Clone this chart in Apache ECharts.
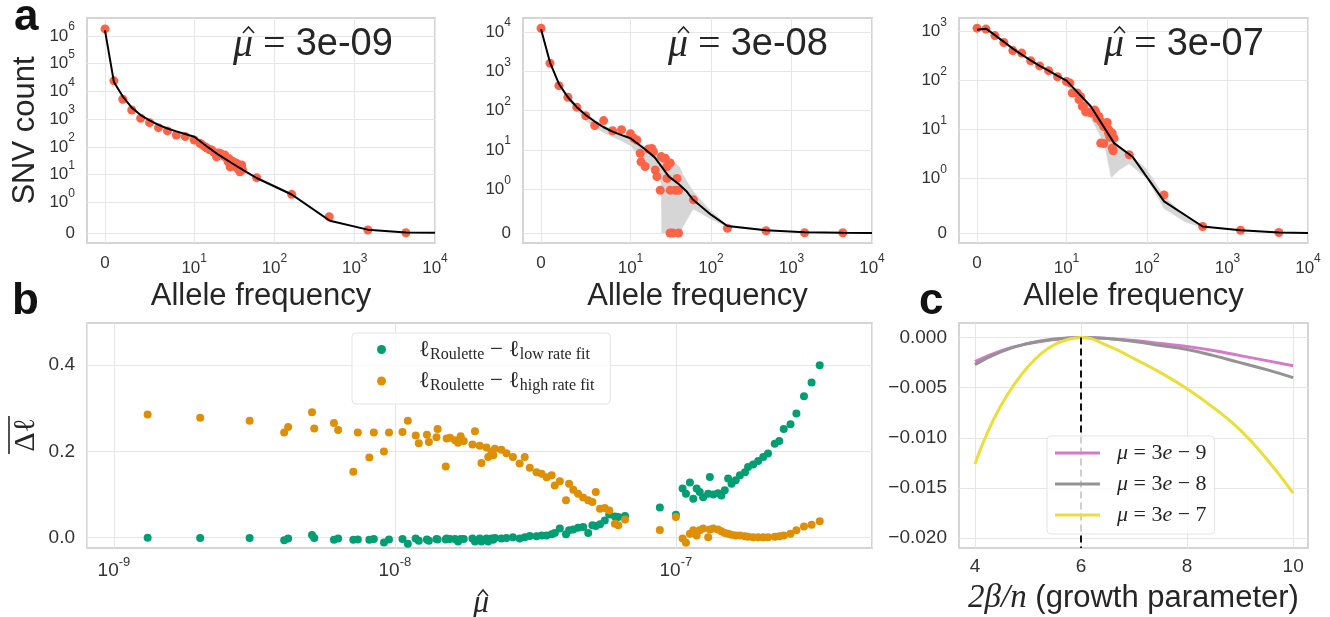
<!DOCTYPE html>
<html><head><meta charset="utf-8">
<script src="https://cdn.jsdelivr.net/npm/echarts@6/dist/echarts.min.js"></script>
<style>html,body{margin:0;padding:0;background:#fff}#c{width:1330px;height:617px}</style>
</head><body><div id="c"></div>
<script>
// ================= DATA =================
// Panel a: allele frequency (x) vs SNV count (y); three estimated mutation rates
const afA1  = [0,1,2,3,4,5,6,7,8,9,10,11.8,12.5,13.6,14.5,15.5,16.5,17.5,19,20,21,22,23,24,25,26.5,27,28,29,30,31,32,34,35,37,38,39,40,60,164,480,1460,4340];
const snvA1 = [1.8e6,2.4e4,5200,2140,1070,745,490,375,268,234,176,134,120,101,90,80,77,65,44,60,58,52,48,51,40,29,38,19,22,30,20,27,25,16,12.6,14,22,15,7.7,1.93,0.53,0.097,0.01];
const fitXA1 = [0,1,2,3,4,5,6,7,8,9,10,15,20,30,40,60,164,490,1450,4350,10000];
const fitYA1 = [1.6e6,2.2e4,6500,2600,1400,900,620,460,360,290,230,95,52,25,15,7.5,1.9,0.4,0.11,0.02,0.01];
const bandXA1  = [10,20,30,40,50,60,164,490];
const bandLoA1 = [215,48,23,12.5,9,6.8,1.75,0.36];
const bandHiA1 = [245,56,28,17,10.5,8.2,2.1,0.44];

const afA2  = [0,1,2,3,4,5,6,7,8,9,10,11,12,13.2,13.5,16.7,19.3,18.4,15.2,20.3,21.3,24.1,27,28.4,31.2,25.7,23.4,31.2,36,39.6,28.4,37.8,31,33.5,39.6,60.6,160,483,1453,4340];
const snvA2 = [12500,1620,435,220,123,74,42,56,31,33,26,20,18,8.3,5.0,10.6,9.1,11,3.8,3.1,2.1,6.8,6.2,3.8,4.7,6.2,0.98,0.98,0.98,0.98,1.9,1.9,0,0,0,0.76,0.108,0.053,0.007,0.005];
const fitXA2 = [0,1,2,3,4,5,6,7,8,9,10,15,20,30,40,50,60,100,160,480,1450,4350,10000];
const fitYA2 = [11800,1700,480,220,123,78,53,38,29.5,24,20,10.6,6.5,2.1,1.35,0.95,0.76,0.42,0.16,0.065,0.02,0.005,0];
const bandXA2  = [2,3,5,7,9,10,12,15,20,24,24.5,30,36,41,45,60,100,160,480];
const bandLoA2 = [430,195,55,28,17,13,8,5,2.5,1.8,0,0,0,0,0.15,0.55,0.32,0.14,0.05];
const bandHiA2 = [520,245,82,42,27,23,16,12.5,8.5,6.5,6.3,5.2,4.8,3.6,2.3,0.95,0.5,0.18,0.075];

const afA3  = [0,1,2,3,4,5,6,7,8,9,10,11,11.8,13.6,14.3,15,15.7,16.2,17.3,18.3,20,20.5,22.5,23,24,25.3,26.6,27.2,29,30.8,32,33.2,33.7,34.5,37,39,26.6,29,37,38,60,163,491,1452,4340];
const snvA3 = [1180,1130,830,600,410,365,255,200,160,120,96,90,56,56,41,47,30,30,23,23,22,22,25,23,17,18.5,14.6,14.3,11.6,11.6,14,8.5,9.9,7,8.5,6.7,5.3,5.2,4.2,3.7,3.07,0.70,0.12,0.05,0.01];
const fitXA3 = [0,1,2,3,4,5,6,7,8,9,10,11,20,39,66,163,491,1452,4350,10000];
const fitYA3 = [1100,1150,850,620,450,340,260,200,160,125,100,85,30,5.3,2.8,0.58,0.12,0.05,0.01,0];
const bandXA3  = [10,12,15,20,25,30,36,45,60,100,163,300,491];
const bandLoA3 = [88,60,36,17,9,4.5,1.05,1.5,2.0,1.0,0.45,0.2,0.1];
const bandHiA3 = [105,78,50,32,20,12,7.5,4.6,3.3,1.5,0.68,0.3,0.14];

const muLabels = ['3e-09','3e-08','3e-07'];
const xTicksA = [0,10,100,1000,10000];
const yTicksA1 = [0,1,10,100,1e3,1e4,1e5,1e6];
const yTicksA2 = [0,1,10,100,1e3,1e4];
const yTicksA3 = [0,1,10,100,1e3];

// Panel b: log10(mu-hat) and mean log-likelihood differences
const log10MuB = [-8.880,-8.693,-8.517,-8.394,-8.380,-8.295,-8.287,-8.217,-8.202,-8.148,-8.132,-8.091,-8.075,-8.039,-8.021,-7.973,-7.954,-7.926,-7.915,-7.886,-7.879,-7.848,-7.852,-7.816,-7.819,-7.804,-7.786,-7.775,-7.766,-7.755,-7.724,-7.715,-7.698,-7.692,-7.674,-7.668,-7.656,-7.650,-7.644,-7.621,-7.603,-7.580,-7.556,-7.538,-7.520,-7.496,-7.478,-7.460,-7.442,-7.431,-7.413,-7.391,-7.380,-7.365,-7.348,-7.330,-7.312,-7.297,-7.285,-7.270,-7.253,-7.237,-7.217,-7.205,-7.181,-7.057,-7.000,-6.976,-6.964,-6.950,-6.938,-6.926,-6.915,-6.903,-6.885,-6.879,-6.867,-6.850,-6.838,-6.826,-6.814,-6.802,-6.787,-6.772,-6.754,-6.743,-6.725,-6.707,-6.689,-6.672,-6.648,-6.632,-6.616,-6.592,-6.571,-6.544,-6.517,-6.488];
const dlLowB = [0.000,-0.001,-0.001,-0.006,-0.002,0.006,-0.001,-0.005,-0.002,-0.005,-0.004,-0.005,-0.003,-0.011,-0.004,-0.003,-0.014,-0.002,-0.007,-0.004,-0.007,-0.004,-0.003,-0.002,-0.004,-0.003,-0.003,-0.009,-0.003,-0.003,-0.002,-0.009,-0.002,-0.009,-0.002,-0.009,-0.002,-0.005,-0.001,-0.002,-0.001,0.001,-0.002,0.001,0.004,0.003,0.005,0.005,0.008,0.011,0.021,0.008,0.017,0.019,0.023,0.025,0.011,0.029,0.027,0.031,0.040,0.054,0.049,0.048,0.050,0.070,0.053,0.114,0.102,0.128,0.090,0.114,0.106,0.094,0.102,0.141,0.100,0.103,0.098,0.110,0.137,0.125,0.133,0.145,0.152,0.164,0.170,0.178,0.187,0.195,0.218,0.224,0.252,0.263,0.288,0.328,0.360,0.400];
const dlHighB = [0.286,0.278,0.271,0.244,0.257,0.291,0.253,0.266,0.250,0.153,0.244,0.186,0.244,0.200,0.244,0.245,0.271,0.237,0.219,0.239,0.222,0.252,0.233,0.230,0.165,0.232,0.226,0.220,0.235,0.224,0.216,0.247,0.213,0.173,0.209,0.187,0.199,0.191,0.206,0.204,0.196,0.187,0.172,0.187,0.162,0.152,0.148,0.140,0.145,0.121,0.131,0.087,0.125,0.111,0.102,0.093,0.087,0.083,0.106,0.067,0.069,0.063,0.032,0.029,0.042,0.018,0.048,-0.002,-0.012,0.009,0.017,0.005,0.017,0.021,0.001,0.019,0.021,0.019,0.015,0.011,0.009,0.007,0.005,0.005,0.003,0.002,0.001,0.001,0.001,0.001,0.002,0.003,0.005,0.009,0.017,0.026,0.030,0.038];

// Panel c: growth parameter vs relative log-likelihood
const betaC = [4,4.5,5,5.5,6,6.5,7,7.5,8,8.5,9,9.5,10];
const ll3e9 = [-0.0024,-0.0013,-0.0006,-0.0002,0,-0.0001,-0.0003,-0.0006,-0.0009,-0.0013,-0.0018,-0.0023,-0.0028];
const ll3e8 = [-0.0027,-0.0014,-0.0006,-0.00015,0,-0.0001,-0.0004,-0.0008,-0.0012,-0.0018,-0.0025,-0.0032,-0.0040];
const betaC7 = [4,4.25,4.5,4.75,5,5.25,5.5,5.75,6,6.5,7,7.5,8,8.5,9,9.5,10];
const ll3e7 = [-0.0126,-0.0093,-0.0067,-0.0046,-0.0029,-0.0016,-0.0007,-0.0002,0,-0.0008,-0.0021,-0.0035,-0.0051,-0.0070,-0.0092,-0.0121,-0.0155];
const xTicksC = [4,6,8,10];
const yTicksC = [0,-0.005,-0.010,-0.015,-0.020];
const yTicksB = [0,0.2,0.4];
const bestBeta = 6;

// ================= HELPERS =================
const K = 10/9; // symlog linear-region scale
const symX = x => x <= 10 ? x / 10 * K : K + Math.log10(x / 10);   // linthresh 10
const symY = y => y <= 1 ? y * K : K + Math.log10(y);             // linthresh 1

const TXT = '#262626';
const SANS = 'Liberation Sans';
const SERIF = 'Liberation Serif';
const gridLine = {show:true, lineStyle:{color:'#e6e6e6', width:1}};

const richA = {
  b:{fontSize:17, lineHeight:30, color:'#333', fontFamily:SANS},
  e:{fontSize:12, lineHeight:12, verticalAlign:'top', color:'#333', fontFamily:SANS},
  z:{fontSize:17, lineHeight:20, color:'#333', fontFamily:SANS}
};

function symLabel(real) {
  if (real === 0) return '{z|0}';
  return '{b|10}{e|' + Math.round(Math.log10(real)) + '}';
}

function topXAxis(gi) {
  const cv = xTicksA.map(symX);
  return {
    type:'value', gridIndex:gi, min:-0.224, max:symX(10000),
    axisLine:{show:false}, axisTick:{show:false, customValues:cv}, splitLine:gridLine,
    axisLabel:{customValues:cv, margin:10, rich:richA,
      formatter:v => { const i = cv.findIndex(c => Math.abs(c - v) < 1e-6); return symLabel(xTicksA[i]); }},
    name:'Allele frequency', nameLocation:'middle', nameGap:38,
    nameTextStyle:{fontSize:31, color:TXT, fontFamily:SANS}
  };
}
function topYAxis(gi, ticks, mn, mx, withName) {
  const cv = ticks.map(symY);
  const ax = {
    type:'value', gridIndex:gi, min:mn, max:mx,
    axisLine:{show:false}, axisTick:{show:false, customValues:cv}, splitLine:gridLine,
    axisLabel:{customValues:cv, margin:12, rich:richA,
      formatter:v => { const i = cv.findIndex(c => Math.abs(c - v) < 1e-6); return symLabel(ticks[i]); }}
  };
  if (withName) {
    ax.name = 'SNV count'; ax.nameLocation = 'middle'; ax.nameGap = 46;
    ax.nameTextStyle = {fontSize:31, color:TXT, fontFamily:SANS};
  }
  return ax;
}

function topSeries(gi, af, snv, fx, fy, bx, lo, hi) {
  return [
    {type:'custom', xAxisIndex:gi, yAxisIndex:gi, silent:true, z:1,
     data:bx.map((x,i)=>[symX(x), symY(lo[i]), symY(hi[i])]),
     renderItem:(params, api) => {
       if (params.dataIndex !== 0) return null;
       const pts = [];
       for (let i = 0; i < bx.length; i++) pts.push(api.coord([symX(bx[i]), symY(hi[i])]));
       for (let i = bx.length - 1; i >= 0; i--) pts.push(api.coord([symX(bx[i]), symY(lo[i])]));
       return {type:'polygon', shape:{points:pts}, style:{fill:'#d6d6d6', stroke:'#d6d6d6', lineWidth:0.5}};
     }},
    {type:'scatter', xAxisIndex:gi, yAxisIndex:gi, symbolSize:9, itemStyle:{color:'#ff6347', opacity:1},
     data:af.map((x,i)=>[symX(x), symY(snv[i])]), z:2},
    {type:'line', xAxisIndex:gi, yAxisIndex:gi, symbol:'none', lineStyle:{color:'#000', width:2},
     data:fx.map((x,i)=>[symX(x), symY(fy[i])]), z:3}
  ];
}

function muHatAnnot(x, label) {
  return {type:'group', x:x, y:45, z:100, children:[
    {type:'text', x:0, y:0, z:100, style:{
      text:'{m|μ}{q| = }{n|' + label + '}', fill:TXT,
      textVerticalAlign:'middle', verticalAlign:'middle',
      rich:{m:{fontFamily:SERIF, fontStyle:'italic', fontSize:40, fill:TXT},
            q:{fontFamily:SERIF, fontSize:40, fill:TXT},
            n:{fontFamily:SANS, fontSize:38, fill:TXT}}}},
    {type:'polyline', z:100, shape:{points:[[10,-12],[15.5,-18],[21,-12]]}, style:{stroke:TXT, lineWidth:1.6, fill:null}}
  ]};
}

const muB = log10MuB.map(e => Math.pow(10, e));

const richB = {
  b:{fontSize:19, lineHeight:30, color:'#333', fontFamily:SANS},
  e:{fontSize:13, lineHeight:13, verticalAlign:'top', color:'#333', fontFamily:SANS}
};

const gridBase = {show:true, borderColor:'#d5d5d5', borderWidth:2, backgroundColor:'#fff'};
const yMinC = -0.02097, yMaxC = 0.00145;

const option = {
  animation:false,
  backgroundColor:'#fff',
  textStyle:{fontFamily:SANS},
  grid:[
    Object.assign({left:87, top:18, width:348, height:225}, gridBase),
    Object.assign({left:523, top:18, width:349, height:225}, gridBase),
    Object.assign({left:959, top:18, width:349, height:225}, gridBase),
    Object.assign({left:87, top:323, width:785, height:225}, gridBase),
    Object.assign({left:959, top:323, width:349, height:225}, gridBase)
  ],
  xAxis:[
    topXAxis(0), topXAxis(1), topXAxis(2),
    {type:'log', logBase:10, gridIndex:3, min:8.02e-10, max:4.99e-7,
     axisLine:{show:false}, axisTick:{show:false}, splitLine:gridLine,
     axisLabel:{showMinLabel:false, showMaxLabel:false, margin:8, rich:richB,
       formatter:v => '{b|10}{e|' + Math.round(Math.log10(v)) + '}'}},
    {type:'value', gridIndex:4, min:3.70, max:10.28,
     axisLine:{show:false}, axisTick:{show:false, customValues:xTicksC}, splitLine:gridLine,
     axisLabel:{customValues:xTicksC, margin:9, fontSize:19, color:'#333', fontFamily:SANS},
     name:'{m|2β/n} (growth parameter)', nameLocation:'middle', nameGap:34,
     nameTextStyle:{fontSize:31, color:TXT, fontFamily:SANS,
       rich:{m:{fontFamily:SERIF, fontStyle:'italic', fontSize:33, color:TXT}}}}
  ],
  yAxis:[
    topYAxis(0, yTicksA1, -0.36, 7.76, true),
    topYAxis(1, yTicksA2, -0.254, 5.47, false),
    topYAxis(2, yTicksA3, -0.204, 4.39, false),
    {type:'value', gridIndex:3, min:-0.024, max:0.498,
     axisLine:{show:false}, axisTick:{show:false, customValues:yTicksB}, splitLine:gridLine,
     axisLabel:{customValues:yTicksB, margin:12, fontSize:19, color:'#333', fontFamily:SANS,
       formatter:v => v.toFixed(1)}},
    {type:'value', gridIndex:4, min:yMinC, max:yMaxC,
     axisLine:{show:false}, axisTick:{show:false, customValues:yTicksC}, splitLine:gridLine,
     axisLabel:{customValues:yTicksC, margin:12, fontSize:19, color:'#333', fontFamily:SANS,
       formatter:v => Math.abs(v) < 1e-9 ? '0.000' : '\u2212' + Math.abs(v).toFixed(3)}}
  ],
  legend:[
    {data:['low','high'], orient:'vertical', left:352, top:333, padding:[5,16,10,25], itemGap:7, z:10,
     icon:'circle', itemWidth:9, itemHeight:9,
     backgroundColor:'rgba(255,255,255,0.8)', borderColor:'#e3e3e3', borderWidth:1, borderRadius:4,
     formatter:n => '{sp|}{l|ℓ}{s|Roulette}{t| \u2212 }{l|ℓ}{s|' + (n === 'low' ? 'low rate fit' : 'high rate fit') + '}',
     textStyle:{color:TXT, rich:{
       sp:{width:28},
       l:{fontFamily:SERIF, fontSize:23, lineHeight:26, color:TXT},
       t:{fontFamily:SERIF, fontSize:23, lineHeight:26, color:TXT},
       s:{fontFamily:SERIF, fontSize:16, lineHeight:14, verticalAlign:'bottom', color:TXT}}}},
    {data:['m9','m8','m7'], orient:'vertical', left:1047, top:436, padding:[6,8,8,8], itemGap:9, z:10,
     icon:'rect', itemWidth:45, itemHeight:3,
     backgroundColor:'rgba(255,255,255,0.8)', borderColor:'#e3e3e3', borderWidth:1, borderRadius:4,
     formatter:n => '{sp|}{i|μ}{t| = 3}{i|e}{t| \u2212 ' + n.slice(1) + '}',
     textStyle:{color:TXT, rich:{
       sp:{width:12},
       i:{fontFamily:SERIF, fontStyle:'italic', fontSize:22, lineHeight:23, color:TXT},
       t:{fontFamily:SERIF, fontSize:22, lineHeight:23, color:TXT}}}}
  ],
  graphic:[
    {type:'text', x:14, y:18, z:100, style:{text:'a', font:'bold 44px Liberation Sans', fill:'#111', textVerticalAlign:'middle', verticalAlign:'middle'}},
    {type:'text', x:12, y:302, z:100, style:{text:'b', font:'bold 44px Liberation Sans', fill:'#111', textVerticalAlign:'middle', verticalAlign:'middle'}},
    {type:'text', x:919, y:302, z:100, style:{text:'c', font:'bold 44px Liberation Sans', fill:'#111', textVerticalAlign:'middle', verticalAlign:'middle'}},
    muHatAnnot(233, muLabels[0]), muHatAnnot(668, muLabels[1]), muHatAnnot(1104, muLabels[2]),
    {type:'group', x:23, y:435, rotation:Math.PI/2, children:[
      {type:'text', x:0, y:3, style:{text:'Δℓ', font:'30px Liberation Serif', fill:TXT, textAlign:'center', align:'center', textVerticalAlign:'middle', verticalAlign:'middle'}},
      {type:'line', shape:{x1:-19, y1:-14, x2:19, y2:-14}, style:{stroke:TXT, lineWidth:1.6}}
    ]},
    {type:'text', x:481, y:604, style:{text:'μ', font:'italic 32px Liberation Serif', fill:TXT, textAlign:'center', align:'center', textVerticalAlign:'middle', verticalAlign:'middle'}},
    {type:'polyline', shape:{points:[[478,596],[483,590],[488,596]]}, style:{stroke:TXT, lineWidth:1.5, fill:null}}
  ],
  series:[
    ...topSeries(0, afA1, snvA1, fitXA1, fitYA1, bandXA1, bandLoA1, bandHiA1),
    ...topSeries(1, afA2, snvA2, fitXA2, fitYA2, bandXA2, bandLoA2, bandHiA2),
    ...topSeries(2, afA3, snvA3, fitXA3, fitYA3, bandXA3, bandLoA3, bandHiA3),
    {name:'low', type:'scatter', xAxisIndex:3, yAxisIndex:3, symbolSize:8, itemStyle:{color:'#029e73', opacity:1},
     data:muB.map((m,i)=>[m, dlLowB[i]])},
    {name:'high', type:'scatter', xAxisIndex:3, yAxisIndex:3, symbolSize:8, itemStyle:{color:'#de8f05', opacity:1},
     data:muB.map((m,i)=>[m, dlHighB[i]])},
    {name:'m9', type:'line', xAxisIndex:4, yAxisIndex:4, smooth:true, symbol:'none', showSymbol:false,
     lineStyle:{color:'#d47ac8', width:3}, itemStyle:{color:'#d47ac8'}, data:betaC.map((b,i)=>[b, ll3e9[i]])},
    {name:'m8', type:'line', xAxisIndex:4, yAxisIndex:4, smooth:true, symbol:'none', showSymbol:false,
     lineStyle:{color:'#939393', width:3}, itemStyle:{color:'#939393'}, data:betaC.map((b,i)=>[b, ll3e8[i]])},
    {name:'m7', type:'line', xAxisIndex:4, yAxisIndex:4, smooth:true, symbol:'none', showSymbol:false,
     lineStyle:{color:'#e9de3a', width:3}, itemStyle:{color:'#e9de3a'}, data:betaC7.map((b,i)=>[b, ll3e7[i]]),
     markLine:{silent:true, symbol:['none','none'], label:{show:false},
       lineStyle:{color:'#111', type:[7,4], width:2},
       data:[[{coord:[bestBeta, 0]},{coord:[bestBeta, yMinC + 0.00001]}]]}}
  ]
};

const chart = echarts.init(document.getElementById('c'), null, {renderer:'canvas'});
chart.setOption(option);
</script>
</body></html>
